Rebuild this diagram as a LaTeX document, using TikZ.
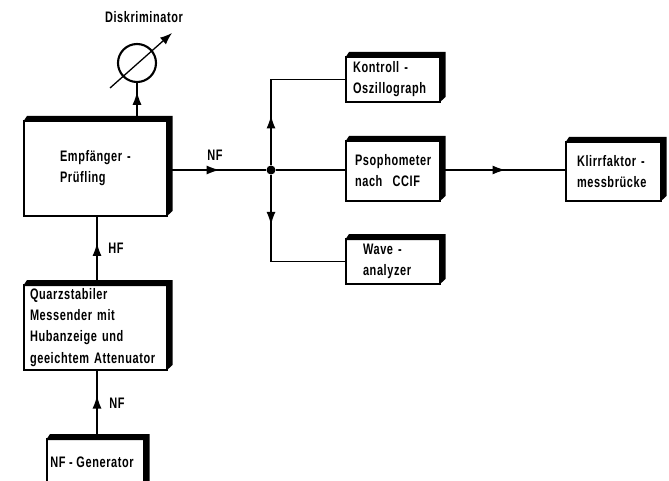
\documentclass[tikz,border=0pt]{standalone}
\usepackage{fontspec}
\setmainfont[FakeStretch=.72,LetterSpace=4]{Liberation Sans}
\usetikzlibrary{arrows.meta,decorations.markings}
\tikzset{
  blockbox/.style n args={3}{draw,line width=1.5pt,inner sep=0pt,outer sep=0pt,align=left,
    minimum width=#1*.03cm,minimum height=#2*.03cm,text width=#3*.03cm,
    font=\bfseries\fontsize{13}{18}\selectfont},
  tag/.style={font=\bfseries\fontsize{13}{16}\selectfont},
  flowline/.style={line width=1.1pt},
  midtip/.style={postaction={decorate,decoration={markings,
    mark=at position #1 with {\arrow{Latex[length=13*.03cm,width=9*.03cm]}}}}}
}
\begin{document}
\begin{tikzpicture}[x=.03cm,y=-.03cm]
\clip (0,0) rectangle (669,481);
% left column
\node[blockbox={143}{95}{71}] (empf) at (95.5,168.5) {Empfänger~-\\Prüfling};
\node[blockbox={143}{85}{131}] (quarz) at (95.5,327.5) {Quarzstabiler\\Messender mit\\Hubanzeige und\\geeichtem Attenuator};
\node[blockbox={97}{60}{85}] (nfgen) at (95.5,469) {};
\node[tag] (nfgenlabel) at (92,462) {NF - Generator};
% right hand
\node[blockbox={94}{45}{80}] (kontroll) at (393,79.5) {Kontroll~-\\Oszillograph};
\node[blockbox={94}{60}{76}] (psoph) at (393,171) {Psophometer\\nach \ CCIF};
\node[blockbox={94}{45}{60}] (wave) at (393,261.5) {Wave~-\\analyzer};
\node[blockbox={95}{59}{73}] (klirr) at (613.5,171.5) {Klirrfaktor~-\\messbrücke};
% heavy top and right edges
\foreach \blockname in {empf,quarz,nfgen,kontroll,psoph,wave,klirr}
  \fill ([shift={(-1,1)}]\blockname.north west) -- ([shift={(3,-5)}]\blockname.north west)
     -- ([shift={(5.5,-5)}]\blockname.north east) -- ([shift={(5.5,-5)}]\blockname.south east)
     -- ([shift={(-1,1)}]\blockname.south east) -- ([shift={(-1,1)}]\blockname.north east) -- cycle;
% discriminator
\node[draw,circle,line width=1.8pt,minimum size=38*.03cm,inner sep=0pt] (diskr) at (137,63) {};
\node[tag] (diskrlabel) at (144,17) {Diskriminator};
\coordinate (needlefoot) at (110,88);
\coordinate (needletip) at (172,33);
\draw[flowline,-{Latex[length=12*.03cm,width=9*.03cm]}] (needlefoot) -- (needletip);
% junction
\node[fill,circle,inner sep=0pt,minimum size=9*.03cm] (junction) at (271,170) {};
\coordinate (hfline) at (97,250);
% connectors
\draw[flowline,midtip=.77] (empf.north -| diskr) -- (diskr.south);
\draw[flowline,midtip=.53] (junction -| empf.east) -- (junction);
\draw[flowline] (junction) -- (junction -| psoph.west);
\draw[flowline,midtip=.31] (junction) |- (kontroll.west);
\draw[flowline,midtip=.31] (junction) |- (wave.west);
\draw[flowline,midtip=.52] (junction -| psoph.east) -- (junction -| klirr.west);
\draw[flowline,midtip=.61] (quarz.north -| hfline) -- (empf.south -| hfline);
\draw[flowline,midtip=.63] (nfgen.north -| hfline) -- (quarz.south -| hfline);
% signal labels
\node[tag] (nflabel) at (215,155) {NF};
\node[tag] (hflabel) at (116,248) {HF};
\node[tag] (nfinlabel) at (117,403) {NF};
\end{tikzpicture}
\end{document}
